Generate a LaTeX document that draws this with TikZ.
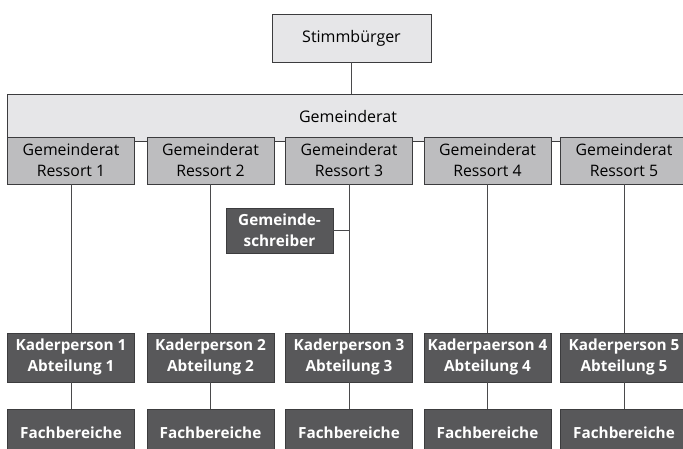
\documentclass[tikz,border=0pt]{standalone}
\usepackage{fontspec}
\setmainfont{Open Sans}
\definecolor{lightbox}{HTML}{E6E6E8}
\definecolor{midbox}{HTML}{BDBDBF}
\definecolor{darkbox}{HTML}{58585A}
\definecolor{edge}{HTML}{3C3C3E}
\definecolor{linec}{HTML}{4A4A4C}
\tikzset{
  lightnode/.style={draw=edge, line width=0.9pt, fill=lightbox, inner sep=0pt, align=center, font=\fontsize{16}{21}\selectfont},
  ressortnode/.style={draw=edge, line width=0.9pt, fill=midbox, minimum width=127pt, minimum height=47pt, inner sep=0pt, align=center, font=\fontsize{15.8}{21}\selectfont},
  darknode/.style={draw=edge, line width=0.9pt, fill=darkbox, text=white, inner sep=0pt, align=center, font=\bfseries\fontsize{15.3}{21}\selectfont},
  kadernode/.style={darknode, minimum width=127pt, minimum height=49pt},
  fachnode/.style={darknode, minimum width=127pt, minimum height=48pt},
  conn/.style={draw=linec, line width=0.9pt}
}
\begin{document}
\begin{tikzpicture}[x=1pt,y=-1pt]
\useasboundingbox (0,0) rectangle (683,449);
\fill[white] (0,0) rectangle (683,449);
% top
\node[lightnode, minimum width=159pt, minimum height=48pt] (st) at (351.5,38) {Stimmbürger};
\node[lightnode, minimum width=686pt, minimum height=47pt] (gr) at (350,117.5) {};
\node[font=\fontsize{16}{21}\selectfont, inner sep=0pt] (grt) at (348,117) {Gemeinderat};
\draw[conn] (st.south) -- (gr.north -| st.south);
% ressorts
\foreach \i/\x in {1/71,2/210.5,3/349,4/487.5,5/624}{
  \node[ressortnode] (r\i) at (\x,160.5) {Gemeinderat\\Ressort \i};
}
% kader
\node[kadernode] (k1) at (71,357.5) {Kaderperson 1\\Abteilung 1};
\node[kadernode] (k2) at (210.5,357.5) {Kaderperson 2\\Abteilung 2};
\node[kadernode] (k3) at (349,357.5) {Kaderperson 3\\Abteilung 3};
\node[kadernode] (k4) at (487.5,357.5) {Kaderpaerson 4\\Abteilung 4};
\node[kadernode] (k5) at (624,357.5) {Kaderperson 5\\Abteilung 5};
% fach
\foreach \i/\x in {1/71,2/210.5,3/349,4/487.5,5/624}{
  \node[fachnode] (f\i) at (\x,433) {Fachbereiche};
}
\foreach \i in {1,...,5}{
  \draw[conn] (r\i.south) -- (k\i.north);
  \draw[conn] (k\i.south) -- (f\i.north);
}
% Gemeindeschreiber
\node[darknode, minimum width=107pt, minimum height=45pt] (gs) at (279.5,230.5) {Gemeinde-\\schreiber};
\draw[conn] (gs.east) -- (gs.east -| r3.south);
\end{tikzpicture}
\end{document}
